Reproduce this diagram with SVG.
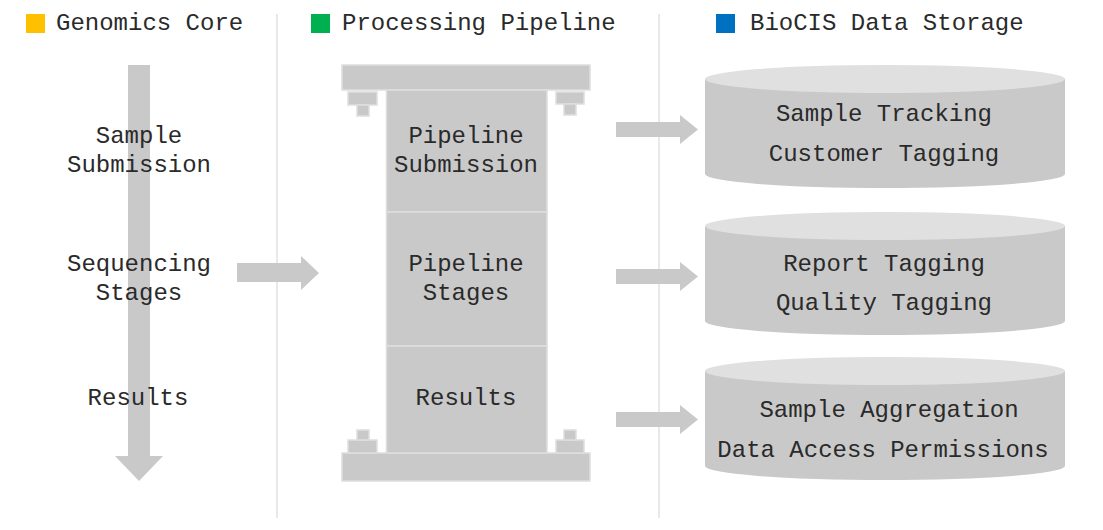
<svg xmlns="http://www.w3.org/2000/svg" width="1103" height="530" viewBox="0 0 1103 530">
<style>
text{font-family:"Liberation Mono","Courier New",monospace;font-size:24px;fill:#2a2a2a;}
.c{text-anchor:middle;}
.g{fill:#c9c9c9;}
.p{fill:#c9c9c9;stroke:#dedede;stroke-width:1.5;}
.top{fill:#e0e0e0;}
.div{stroke:#d9d9d9;stroke-width:1.2;fill:none;}
</style>
<rect width="1103" height="530" fill="#fff"/>
<g id="dividers">
<line class="div" x1="277" y1="14" x2="277" y2="518"/>
<line class="div" x1="659" y1="14" x2="659" y2="518"/>
</g>
<g id="header-genomics">
<rect x="26" y="14" width="19" height="19" fill="#ffc000"/>
<text x="56" y="30">Genomics Core</text>
</g>
<g id="header-pipeline">
<rect x="311" y="14" width="19" height="19" fill="#00b050"/>
<text x="342" y="30">Processing Pipeline</text>
</g>
<g id="header-storage">
<rect x="716" y="14" width="19" height="19" fill="#0070c0"/>
<text x="750" y="30">BioCIS Data Storage</text>
</g>
<g id="connectors">
<polygon class="g" points="128,65 150,65 150,456 163,456 139,481 115,456 128,456"/>
<polygon class="g" points="237,263 301,263 301,256 319,273 301,290 301,282 237,282"/>
<polygon class="g" points="616,122 680,122 680,115 698,129.5 680,144 680,137 616,137"/>
<polygon class="g" points="616,269 680,269 680,262 698,276.5 680,291 680,284 616,284"/>
<polygon class="g" points="616,412 680,412 680,405 698,419.5 680,434 680,427 616,427"/>
</g>
<g id="genomics-core">
<text class="c" x="139" y="143">Sample</text>
<text class="c" x="139" y="172">Submission</text>
<text class="c" x="139" y="271">Sequencing</text>
<text class="c" x="139" y="300">Stages</text>
<text class="c" x="138" y="405">Results</text>
</g>
<g id="pipeline-frame">
<rect class="p" x="342" y="65" width="248" height="25"/>
<rect class="p" x="348" y="92" width="29" height="13"/>
<rect class="p" x="357" y="105" width="12" height="11"/>
<rect class="p" x="556" y="92" width="28" height="12"/>
<rect class="p" x="564" y="104" width="12" height="11"/>
<rect class="p" x="342" y="453" width="248" height="28"/>
<rect class="p" x="348" y="440" width="29" height="13"/>
<rect class="p" x="357" y="430" width="12" height="10"/>
<rect class="p" x="556" y="440" width="28" height="13"/>
<rect class="p" x="564" y="430" width="12" height="10"/>
</g>
<g id="pipeline-submission">
<rect class="p" x="386.5" y="90" width="160.5" height="122"/>
<text class="c" x="466" y="143">Pipeline</text>
<text class="c" x="466" y="172">Submission</text>
</g>
<g id="pipeline-stages">
<rect class="p" x="386.5" y="212" width="160.5" height="134"/>
<text class="c" x="466" y="271">Pipeline</text>
<text class="c" x="466" y="300">Stages</text>
</g>
<g id="pipeline-results">
<rect class="p" x="386.5" y="346" width="160.5" height="107"/>
<text class="c" x="466" y="405">Results</text>
</g>
<g id="storage-1">
<path class="g" d="M705,79 V174 A180,14 0 0 0 1065,174 V79 Z"/>
<ellipse class="top" cx="885" cy="79" rx="180" ry="14"/>
<text class="c" x="884" y="121">Sample Tracking</text>
<text class="c" x="884" y="161">Customer Tagging</text>
</g>
<g id="storage-2">
<path class="g" d="M705,226 V321 A180,14 0 0 0 1065,321 V226 Z"/>
<ellipse class="top" cx="885" cy="226" rx="180" ry="14"/>
<text class="c" x="884" y="271">Report Tagging</text>
<text class="c" x="884" y="310">Quality Tagging</text>
</g>
<g id="storage-3">
<path class="g" d="M705,371 V466 A180,14 0 0 0 1065,466 V371 Z"/>
<ellipse class="top" cx="885" cy="371" rx="180" ry="14"/>
<text class="c" x="889" y="417">Sample Aggregation</text>
<text class="c" x="883" y="457">Data Access Permissions</text>
</g>
</svg>
